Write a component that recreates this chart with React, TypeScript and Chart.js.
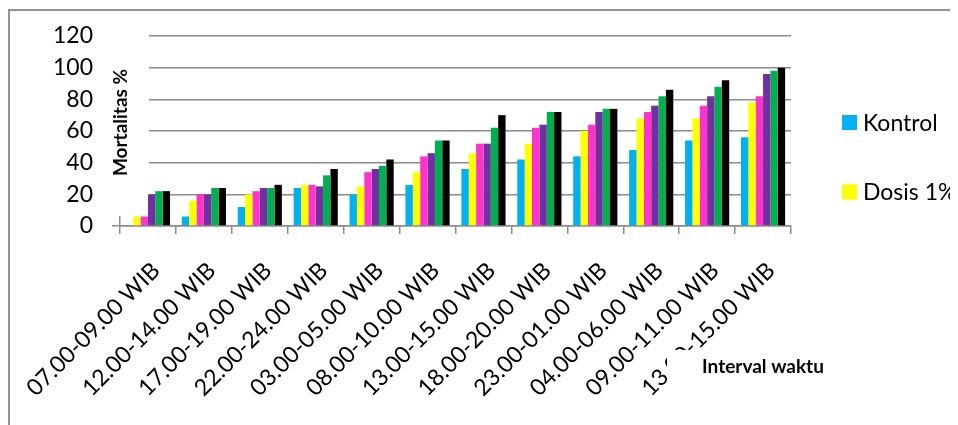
import React, { useEffect, useRef } from "react";
import { Chart, registerables } from "chart.js";

Chart.register(...registerables);

const categories = [
  "07.00-09.00 WIB",
  "12.00-14.00 WIB",
  "17.00-19.00 WIB",
  "22.00-24.00 WIB",
  "03.00-05.00 WIB",
  "08.00-10.00 WIB",
  "13.00-15.00 WIB",
  "18.00-20.00 WIB",
  "23.00-01.00 WIB",
  "04.00-06.00 WIB",
  "09.00-11.00 WIB",
  "13.00-15.00 WIB",
];

const kontrol = [0, 6, 12, 24, 20, 26, 36, 42, 44, 48, 54, 56];
const dosis1 = [6, 16, 20, 26, 25, 34, 46, 52, 60, 68, 68, 78];
const dosis2 = [6, 20, 22, 26, 34, 44, 52, 62, 64, 72, 76, 82];
const dosis3 = [20, 20, 24, 25, 36, 46, 52, 64, 72, 76, 82, 96];
const dosis4 = [22, 24, 24, 32, 38, 54, 62, 72, 74, 82, 88, 98];
const dosis5 = [22, 24, 26, 36, 42, 54, 70, 72, 74, 86, 92, 100];

const seriesNames = ["Kontrol", "Dosis 1%", "Dosis 2%", "Dosis 3%", "Dosis 4%", "Dosis 5%"];
const seriesColors = ["#00B0F0", "#FFFF00", "#FF33CC", "#7030A0", "#00B050", "#000000"];
const legendShown = 2;

const yTicks = [0, 20, 40, 60, 80, 100, 120];
const yTitle = "Mortalitas %";
const xTitle = "Interval waktu";

const FONT = "Lato";
const GRID = "#8c8c8c";

const decorPlugin = {
  id: "decor",
  beforeDatasetsDraw(chart: any) {
    const { ctx, chartArea: a } = chart;
    ctx.save();
    // y title box + text
    ctx.fillStyle = "#ffffff";
    ctx.fillRect(a.left - 26, a.top - 6, 55, a.bottom - 10 - (a.top - 6));
    ctx.translate(a.left + 1, a.top + 86.5);
    ctx.rotate(-Math.PI / 2);
    ctx.fillStyle = "#000";
    ctx.font = `bold 19px ${FONT}`;
    ctx.textAlign = "center";
    ctx.textBaseline = "middle";
    ctx.fillText(yTitle, 0, 0);
    ctx.restore();

    // x title box + text
    ctx.save();
    const cx = a.right - 28;
    const cy = a.bottom + 141;
    ctx.fillStyle = "#ffffff";
    ctx.fillRect(cx - 96, cy - 17, 192, 42);
    ctx.fillStyle = "#000";
    ctx.font = `bold 19px ${FONT}`;
    ctx.textAlign = "center";
    ctx.textBaseline = "middle";
    ctx.fillText(xTitle, cx, cy);
    ctx.restore();
  },
  afterDraw(chart: any) {
    const { ctx, chartArea: a } = chart;
    ctx.save();
    ctx.font = `23px ${FONT}`;
    ctx.textAlign = "left";
    ctx.textBaseline = "middle";
    for (let i = 0; i < legendShown; i++) {
      const ds = chart.data.datasets[i];
      const y = a.top + 86.5 + i * 69.5;
      const x = a.right + 51;
      ctx.fillStyle = ds.backgroundColor;
      ctx.fillRect(x, y - 7.5, 15, 15);
      ctx.fillStyle = "#000";
      ctx.fillText(ds.label, x + 21, y + 1);
    }
    ctx.restore();
  },
};

export default function App() {
  const ref = useRef<HTMLCanvasElement | null>(null);

  useEffect(() => {
    document.documentElement.style.overflow = "hidden";
    document.body.style.overflow = "hidden";
    Chart.defaults.font.family = FONT;
    Chart.defaults.color = "#000";
    const seriesData = [kontrol, dosis1, dosis2, dosis3, dosis4, dosis5];
    const chart = new Chart(ref.current as HTMLCanvasElement, {
      type: "bar",
      data: {
        labels: categories,
        datasets: seriesData.map((d, i) => ({
          label: seriesNames[i],
          data: d,
          backgroundColor: seriesColors[i],
          borderWidth: 0,
          categoryPercentage: 0.79,
          barPercentage: 1.0,
        })),
      },
      options: {
        responsive: false,
        animation: false,
        events: [],
        layout: { padding: { top: 28, right: 167, left: 0, bottom: 0 } },
        plugins: {
          legend: { display: false },
          tooltip: { enabled: false },
          title: { display: false },
        },
        scales: {
          x: {
            offset: true,
            grid: {
              display: true,
              offset: true,
              drawOnChartArea: false,
              drawTicks: true,
              tickLength: 8,
              color: GRID,
              lineWidth: 1.5,
            },
            border: { display: true, color: GRID, width: 1.5 },
            ticks: {
              autoSkip: false,
              maxRotation: 45,
              minRotation: 45,
              padding: 23,
              labelOffset: 8,
              font: { size: 23, family: FONT },
              color: "#000",
            },
            afterFit: (s: any) => {
              s.height = 199;
              s.paddingLeft = 0;
              s.paddingRight = 0;
            },
          },
          y: {
            min: 0,
            max: 120,
            afterBuildTicks: (s: any) => {
              s.ticks = yTicks.map((v) => ({ value: v }));
            },
            grid: {
              color: GRID,
              lineWidth: 1.5,
              drawTicks: true,
              tickLength: 8,
            },
            border: { display: true, color: GRID, width: 1.5 },
            ticks: {
              padding: 19,
              font: { size: 23, family: FONT },
              color: "#000",
            },
            afterFit: (s: any) => {
              s.width = 112;
              s.paddingTop = 0;
              s.paddingBottom = 0;
            },
          },
        },
      },
      plugins: [decorPlugin],
    });
    return () => chart.destroy();
  }, []);

  return (
    <div style={{ position: "relative", width: 950, height: 417, overflow: "hidden" }}>
      <div
        style={{
          position: "absolute",
          left: 0,
          top: 1,
          width: 1000,
          height: 500,
          border: "2px solid #929292",
          boxSizing: "border-box",
        }}
      />
      <canvas
        ref={ref}
        width={950}
        height={417}
        style={{ position: "absolute", left: 0, top: 0, width: 950, height: 417 }}
      />
    </div>
  );
}
